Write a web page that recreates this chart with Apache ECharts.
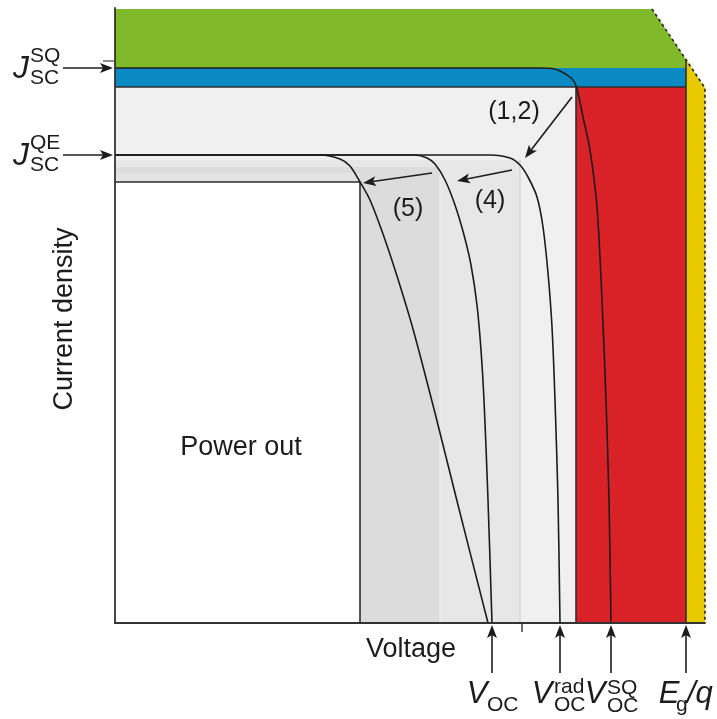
<!DOCTYPE html>
<html>
<head>
<meta charset="utf-8">
<script src="https://cdn.jsdelivr.net/npm/echarts@6/dist/echarts.min.js"></script>
<style>
  html, body { margin: 0; padding: 0; background: #ffffff; }
  #chart { width: 717px; height: 719px; }
</style>
</head>
<body>
<div id="chart"></div>
<script>
// ---- Axis extents (voltage / current density, arbitrary units) ----
const vMax = 118;
const jMax = 123;

// ---- Characteristic current densities ----
const jTop = 122.8;     // top of the incident-power block
const jscSQ = 111;      // J_SC^SQ
const jscBand = 107.2;  // lower edge of the thermalisation band
const jscQE = 93.6;     // J_SC^QE
const jRadEdge = 92.6;
const jNonradEdge = 91.2;
const jResistEdge = 90;
const jMPP = 88.2;      // current at the maximum power point

// ---- Characteristic voltages ----
const vMPP = 49;          // voltage at the maximum power point
const vNonradEdge = 65;
const vRadEdge = 81;
const vGapLoss = 92.2;
const egOverQ = 114.2;    // E_g/q
const vEdge = 118;
const vSlantStart = 107.4;
const jSlantMid = 112.7;
const jSlantEnd = 107;
const vocMeasured = 75.4; // V_OC
const vocRad = 89;        // V_OC^rad
const vocSQ = 99.2;       // V_OC^SQ
const vTick = 81.4;

// ---- Energy-loss blocks (polygons in V-J space) ----
const greenBlock  = [[0, jscSQ], [0, jTop], [vSlantStart, jTop], [egOverQ, jSlantMid], [egOverQ, jscSQ]];
const blueBand    = [[0, jscBand], [0, jscSQ], [egOverQ, jscSQ], [egOverQ, jscBand]];
const yellowStrip = [[egOverQ, 0], [egOverQ, jSlantMid], [vEdge, jSlantEnd], [vEdge, 0]];
const redBlock    = [[vGapLoss, 0], [vGapLoss, jscBand], [egOverQ, jscBand], [egOverQ, 0]];
const lightBlock  = [[0, 0], [0, jscBand], [vGapLoss, jscBand], [vGapLoss, 0]];
const radBlock    = [[0, 0], [0, jRadEdge], [vRadEdge, jRadEdge], [vRadEdge, 0]];
const nonradBlock = [[0, 0], [0, jNonradEdge], [vNonradEdge, jNonradEdge], [vNonradEdge, 0]];
const resistBand  = [[0, 0], [0, jResistEdge], [vMPP, jResistEdge], [vMPP, 0]];
const powerBlock  = [[0, 0], [0, jMPP], [vMPP, jMPP], [vMPP, 0]];

// ---- J-V curves ----
const curveSQ = [[0, 111], [40, 111], [85, 111], [87.4, 110.9], [89, 110.4], [91, 109.2], [92, 108],
  [92.6, 106], [93.6, 101.2], [95, 94.6], [96.4, 83.2], [97.4, 64.6], [98.2, 44.6], [98.8, 24.6], [99.2, 0]];
const curveRad = [[0, 93.6], [40, 93.6], [75, 93.6], [79, 93], [81, 91.6], [82.6, 89.2], [84.4, 85.2],
  [85.6, 79.2], [86.6, 70], [87.4, 59.2], [88, 44.6], [88.6, 24.6], [89, 0]];
const curveNonrad = [[0, 93.6], [30, 93.6], [60, 93.6], [62.4, 93], [64, 91.8], [66, 88.6], [68, 83.6],
  [69.8, 77.6], [71.2, 71.6], [72.4, 63.6], [73.2, 54.6], [73.8, 44.6], [74.6, 24.6], [75.4, 0]];
const curveResist = [[0, 93.6], [20, 93.6], [41, 93.6], [45, 92.8], [47, 91.4], [49, 88.2], [51, 84.6],
  [53.6, 77.8], [56.4, 69.4], [59.6, 58.8], [64, 42], [68.4, 24.4], [74.6, 0]];

// ---- Block edges ----
const edgeLines = [
  [[0, jscBand], [egOverQ, jscBand]],
  [[vGapLoss, 0], [vGapLoss, jscBand]],
  [[egOverQ, 0], [egOverQ, jSlantMid]],
  [[0, jMPP], [vMPP, jMPP], [vMPP, 0]]
];
const faintLines = [
  [[vNonradEdge, 0], [vNonradEdge, jNonradEdge]],
  [[vRadEdge, 0], [vRadEdge, jRadEdge]]
];
const dottedEdge = [[vSlantStart, jTop], [vEdge, jSlantEnd], [vEdge, 0]];

// ---- Annotation arrows inside the plot ----
const annoLabels = ['(1,2)', '(4)', '(5)'];
const annoFrom = [[91.4, 105.2], [79.4, 90.6], [63.4, 90]];
const annoTo   = [[82, 93], [68.4, 88.4], [49.6, 88]];
const annoText = [[79.8, 102.2], [75, 84.4], [58.6, 82.8]];

// ---- Styling ----
const blocks = [greenBlock, blueBand, yellowStrip, redBlock, lightBlock, radBlock, nonradBlock, resistBand, powerBlock];
const blockFills = ['#80ba2a', '#0a89c2', '#e8ca00', '#d92228', '#f0f0f0', '#e7e7e7', '#dcdcdc', '#e3e3e3', '#ffffff'];
const faintColors = ['#ececec', '#d2d2d2'];
const INK = '#1c1c1c';
const FONT = '"Liberation Sans", Arial, Helvetica, sans-serif';

const chart = echarts.init(document.getElementById('chart'), null, { renderer: 'canvas' });

function polylineSeries(lines, color, width, dashed, z) {
  return {
    type: 'custom',
    silent: true,
    z: z,
    data: lines.map((l, i) => [l[0][0], l[0][1], i]),
    encode: { x: 0, y: 1 },
    renderItem: (params, api) => ({
      type: 'polyline',
      shape: { points: lines[params.dataIndex].map(p => api.coord(p)) },
      style: {
        stroke: Array.isArray(color) ? color[params.dataIndex] : color,
        lineWidth: width,
        fill: null,
        lineDash: dashed ? [3, 3] : null
      }
    })
  };
}

function curveSeries(data) {
  return {
    type: 'line',
    data: data,
    showSymbol: false,
    symbol: 'none',
    smooth: 0.3,
    silent: true,
    z: 6,
    lineStyle: { color: INK, width: 1.6 }
  };
}

chart.setOption({
  animation: false,
  grid: { left: 115, top: 8, width: 590, height: 615, containLabel: false },
  xAxis: {
    type: 'value', min: 0, max: vMax, z: 10,
    axisLine: { show: true, lineStyle: { color: '#333', width: 1.8 } },
    axisTick: { show: false }, axisLabel: { show: false }, splitLine: { show: false }
  },
  yAxis: {
    type: 'value', min: 0, max: jMax, z: 10,
    axisLine: { show: true, lineStyle: { color: '#333', width: 1.8 } },
    axisTick: { show: false }, axisLabel: { show: false }, splitLine: { show: false }
  },
  series: [
    {
      type: 'custom',
      silent: true,
      z: 1,
      data: blocks.map((b, i) => [b[0][0], b[0][1], i]),
      encode: { x: 0, y: 1 },
      renderItem: (params, api) => ({
        type: 'polygon',
        shape: { points: blocks[params.dataIndex].map(p => api.coord(p)) },
        style: { fill: blockFills[params.dataIndex] }
      })
    },
    polylineSeries(faintLines, faintColors, 1.2, false, 2),
    polylineSeries(edgeLines, '#2f2f2f', 1.6, false, 3),
    polylineSeries([dottedEdge], '#222', 1.6, true, 3),
    curveSeries(curveSQ),
    curveSeries(curveRad),
    curveSeries(curveNonrad),
    curveSeries(curveResist)
  ]
});

// ---- Annotations (arrows and labels), placed from data coordinates ----
const px = (v, j) => chart.convertToPixel({ gridIndex: 0 }, [v, j]);

function arrow(p1, p2) {
  const dx = p2[0] - p1[0], dy = p2[1] - p1[1];
  const L = Math.hypot(dx, dy), ux = dx / L, uy = dy / L;
  const hl = 13, hw = 5;
  const bx = p2[0] - ux * hl, by = p2[1] - uy * hl;
  return [
    { type: 'line', z: 100, shape: { x1: p1[0], y1: p1[1], x2: bx + ux * 3, y2: by + uy * 3 },
      style: { stroke: INK, lineWidth: 1.6 } },
    { type: 'polygon', z: 100,
      shape: { points: [[p2[0], p2[1]], [bx - uy * hw, by + ux * hw], [bx + ux * 3, by + uy * 3], [bx + uy * hw, by - ux * hw]] },
      style: { fill: INK } }
  ];
}

function text(x, y, str, size, opt) {
  opt = opt || {};
  return {
    type: 'text', z: 100, x: x, y: y, rotation: opt.rotation || 0,
    style: {
      text: str, fill: INK,
      font: (opt.italic ? 'italic ' : '') + size + 'px ' + FONT,
      align: opt.align || 'center', textAlign: opt.align || 'center',
      verticalAlign: 'middle', textVerticalAlign: 'middle'
    }
  };
}

const g = [];
const origin = px(0, 0);
const axisX = origin[0], axisY = origin[1];

// Current-density markers on the left
[['SQ', jscSQ], ['QE', jscQE]].forEach(([sup, j]) => {
  const p = px(0, j);
  g.push(...arrow([axisX - 52, p[1]], [axisX - 2, p[1]]));
  g.push(text(axisX - 94, p[1] + 1, 'J', 32, { italic: true }));
  g.push(text(axisX - 85, p[1] - 12, sup, 21, { align: 'left' }));
  g.push(text(axisX - 85, p[1] + 10, 'SC', 21, { align: 'left' }));
});
// short tick above J_SC^SQ
const tk = px(0, jscSQ + 1.4);
g.push({ type: 'line', z: 100, shape: { x1: axisX - 12, y1: tk[1], x2: axisX, y2: tk[1] }, style: { stroke: '#444', lineWidth: 1.2 } });

// Voltage markers along the bottom
[vocMeasured, vocRad, vocSQ, egOverQ].forEach(v => {
  const p = px(v, 0);
  g.push(...arrow([p[0], axisY + 50], [p[0], axisY + 2]));
});
const pV = px(vocMeasured, 0), pR = px(vocRad, 0), pS = px(vocSQ, 0), pE = px(egOverQ, 0);
g.push(text(pV[0] - 15, axisY + 71, 'V', 31, { italic: true }));
g.push(text(pV[0] - 5, axisY + 82, 'OC', 21, { align: 'left' }));
g.push(text(pR[0] - 18, axisY + 71, 'V', 31, { italic: true }));
g.push(text(pR[0] - 6, axisY + 64, 'rad', 21, { align: 'left' }));
g.push(text(pR[0] - 6, axisY + 82, 'OC', 21, { align: 'left' }));
g.push(text(pS[0] - 16, axisY + 71, 'V', 31, { italic: true }));
g.push(text(pS[0] - 4, axisY + 65, 'SQ', 21, { align: 'left' }));
g.push(text(pS[0] - 4, axisY + 83, 'OC', 21, { align: 'left' }));
g.push(text(pE[0] - 17, axisY + 71, 'E', 31, { italic: true }));
g.push(text(pE[0] - 10, axisY + 82, 'g', 21, { align: 'left' }));
g.push(text(pE[0] + 1, axisY + 71, '/q', 31, { italic: true, align: 'left' }));

// small tick on the voltage axis
const pt = px(vTick, 0);
g.push({ type: 'line', z: 100, shape: { x1: pt[0], y1: axisY, x2: pt[0], y2: axisY + 9 }, style: { stroke: '#333', lineWidth: 1.4 } });

// Loss-mechanism arrows
annoLabels.forEach((lab, i) => {
  g.push(...arrow(px(...annoFrom[i]), px(...annoTo[i])));
  const t = px(...annoText[i]);
  g.push(text(t[0], t[1], lab, 25));
});

// Axis titles and block label
const pVolt = px(59.2, -5.4);
g.push(text(pVolt[0], pVolt[1], 'Voltage', 27));
const pCur = px(-10, 60.8);
g.push(text(pCur[0], pCur[1], 'Current density', 27, { rotation: Math.PI / 2 }));
const pPow = px(25.2, 35);
g.push(text(pPow[0], pPow[1], 'Power out', 27));

chart.setOption({ graphic: g });
</script>
</body>
</html>
